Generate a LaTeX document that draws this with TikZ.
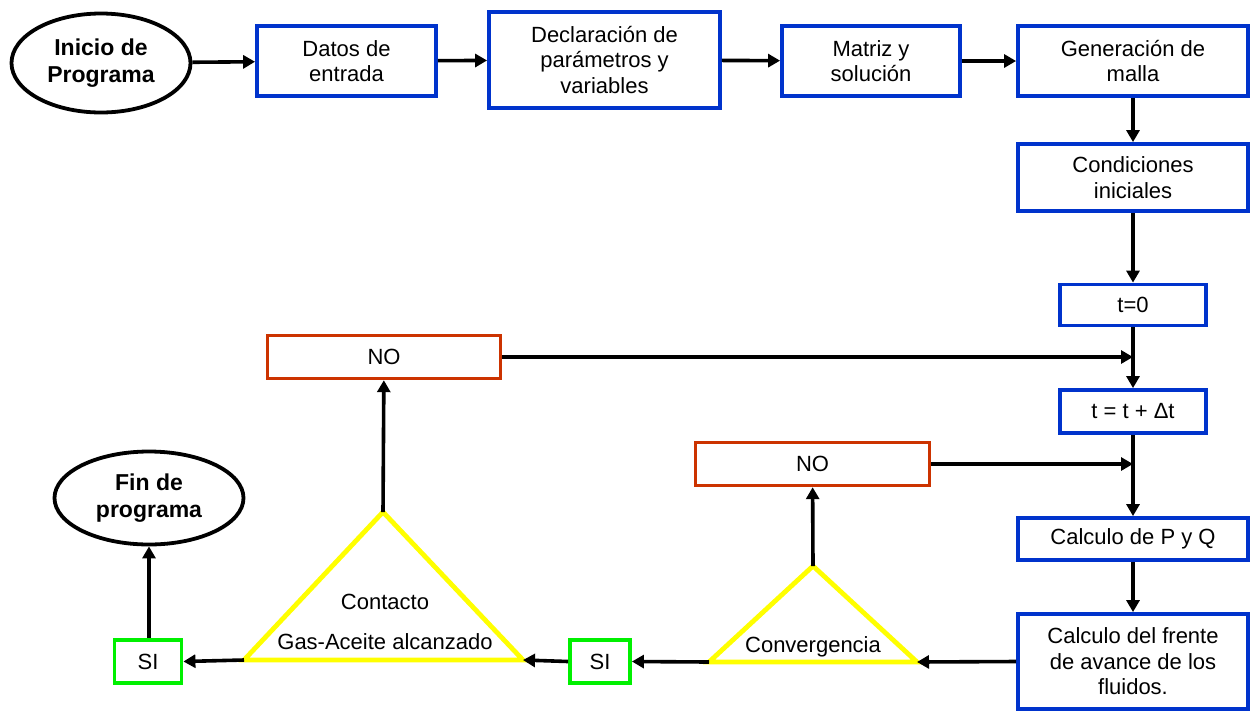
\documentclass[tikz,border=0pt]{standalone}
\usepackage{fontspec}
\setmainfont{Liberation Sans}
\usetikzlibrary{arrows.meta,shapes.geometric}
\definecolor{bxblue}{RGB}{0,51,204}
\definecolor{nored}{RGB}{204,51,0}
\definecolor{sigreen}{RGB}{0,240,0}
\definecolor{triyel}{RGB}{255,255,0}
\tikzset{
  blk/.style={draw=bxblue, line width=1.9pt, align=center, inner sep=1pt},
  nob/.style={draw=nored, line width=1.7pt, inner sep=1pt},
  sib/.style={draw=sigreen, line width=1.9pt, inner sep=1pt},
  term/.style={ellipse, draw, line width=1.9pt, align=center, inner sep=0pt,
    font=\fontsize{11.5}{13.5}\selectfont\bfseries},
  arr/.style={-{Triangle[length=6pt,width=6.5pt]}, line width=1.8pt},
  tri/.style={draw=triyel, line width=2.4pt, line join=miter},
}

\begin{document}
\fontsize{11}{12.8}\selectfont
\begin{tikzpicture}[x=0.5pt,y=-0.5pt]
  \useasboundingbox (0,0) rectangle (1252,713);
  % top row
  \node[term, minimum width=89.5pt, minimum height=49.5pt] (ini) at (101,63) {Inicio de\\Programa};
  \node[blk, minimum width=89.5pt, minimum height=35pt] (dat) at (346.5,61) {Datos de\\entrada};
  \node[blk, minimum width=115.5pt, minimum height=48pt] (dec) at (604.5,60) {Declaración de\\parámetros y\\variables};
  \node[blk, minimum width=89pt, minimum height=35pt] (mat) at (871,61) {Matriz y\\solución};
  \node[blk, minimum width=115pt, minimum height=35pt] (gen) at (1133,61) {Generación de\\malla};
  % right column
  \node[blk, minimum width=115pt, minimum height=33.5pt] (cond) at (1133,177.5) {Condiciones\\iniciales};
  \node[blk, minimum width=73pt, minimum height=20.5pt] (tcero) at (1133,305) {t=0};
  \node[blk, minimum width=73pt, minimum height=21.5pt] (tdt) at (1133,411.5) {t = t + Δt};
  \node[blk, minimum width=115pt, minimum height=21pt] (pq) at (1133,539) {Calculo de P y Q};
  \node[blk, minimum width=115pt, minimum height=47.5pt] (fre) at (1133,661.5) {Calculo del frente\\de avance de los\\fluidos.};
  % decisions
  \node[nob, minimum width=116.5pt, minimum height=21.5pt] (noa) at (384,357) {NO};
  \node[nob, minimum width=117pt, minimum height=21.5pt] (nob) at (812.5,464) {NO};
  \node[sib, minimum width=30pt, minimum height=21.5pt] (sib) at (600,661.5) {SI};
  \node[sib, minimum width=33.5pt, minimum height=21.5pt] (sia) at (148,661.5) {SI};
  \node[term, minimum width=94.5pt, minimum height=46.5pt] (fin) at (149,498) {Fin de\\programa};
  % triangles
  \coordinate (cvtop) at (813,566);
  \coordinate (cvl) at (709,662);
  \coordinate (cvr) at (917,662);
  \draw[tri] (cvtop) -- (cvr) -- (cvl) -- cycle;
  \node (cvtxt) at (813,647) {Convergencia};
  \coordinate (cttop) at (383,512);
  \coordinate (ctl) at (244,660);
  \coordinate (ctr) at (523,660);
  \draw[tri] (cttop) -- (ctr) -- (ctl) -- cycle;
  \node[align=center] (cttxt) at (385,622) {Contacto\\[7.5pt]Gas-Aceite alcanzado};
  % connectors
  \draw[arr] (ini) -- (dat);
  \draw[arr] (dat) -- (dec);
  \draw[arr] (dec) -- (mat);
  \draw[arr] (mat) -- (gen);
  \draw[arr] (gen) -- (cond);
  \draw[arr] (cond) -- (tcero);
  \draw[arr] (tcero) -- (tdt);
  \draw[arr] (noa.east) -- (noa.east -| tdt.north);
  \draw[arr] (tdt) -- (pq);
  \draw[arr] (nob.east) -- (nob.east -| pq.north);
  \draw[arr] (pq) -- (fre);
  \draw[arr] (fre.west) -- (cvr);
  \draw[arr] (cvl) -- (sib.east);
  \draw[arr] (sib.west) -- (ctr);
  \draw[arr] (ctl) -- (sia.east);
  \draw[arr] (sia.north -| fin.south) -- (fin.south);
  \draw[arr] (cttop) -- (noa);
  \draw[arr] (cvtop) -- (nob);
\end{tikzpicture}
\end{document}
